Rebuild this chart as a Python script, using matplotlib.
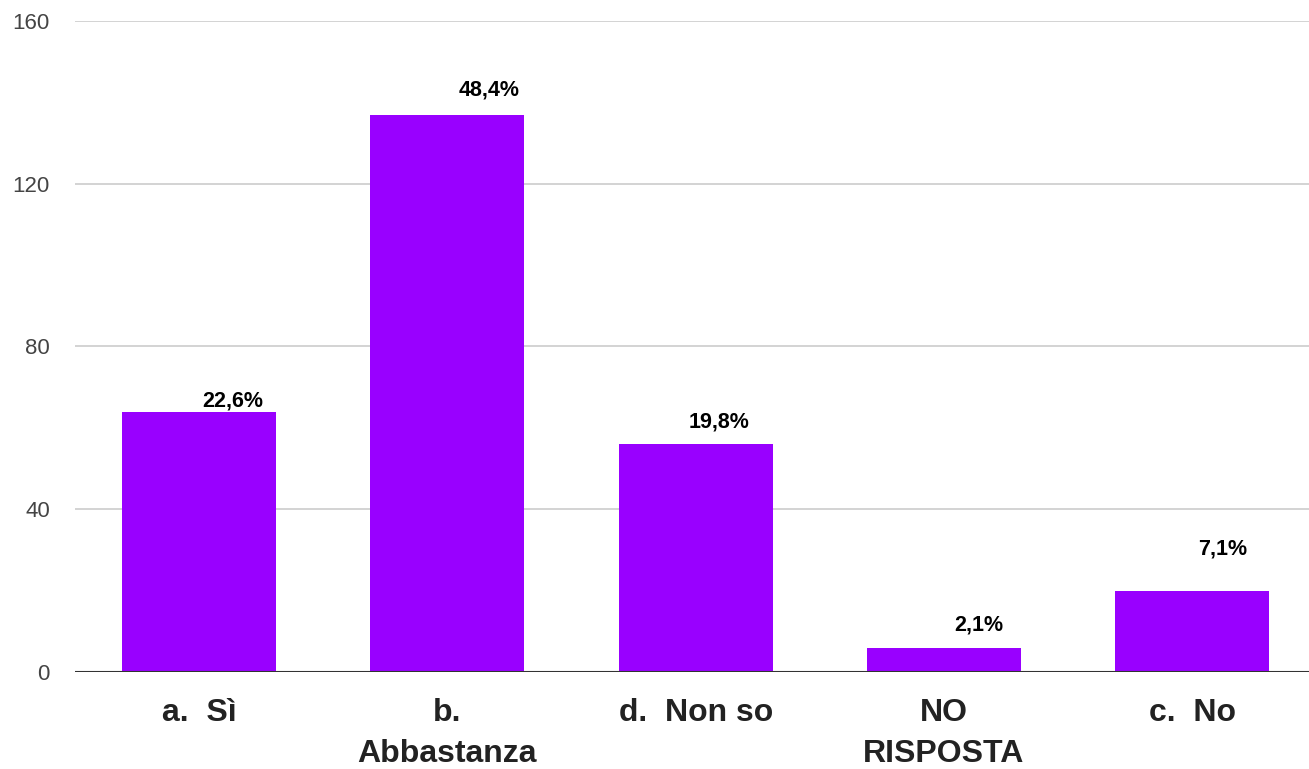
import matplotlib.pyplot as plt

plt.rcParams['font.family'] = ['Liberation Sans', 'DejaVu Sans']

# survey answers, counts (total 283)
categories = ['a.  Sì', 'b.\nAbbastanza', 'd.  Non so', 'NO\nRISPOSTA', 'c.  No']
counts = [64, 137, 56, 6, 20]
pct_labels = ['22,6%', '48,4%', '19,8%', '2,1%', '7,1%']
y_ticks = [0, 40, 80, 120, 160]

# label nudges in points (Sheets places them a bit irregularly)
nudge_x = [24, 30, 17, 25, 22]
nudge_y = [4, 14, 12, 12, 26]

fig = plt.figure(figsize=(13.09, 7.69), dpi=100)
ax = fig.add_axes([75 / 1309, 97 / 769, 1234 / 1309, 651 / 769])

x = range(len(categories))
ax.bar(x, counts, width=0.62, color='#9900ff', zorder=3)

for i, (c, lab) in enumerate(zip(counts, pct_labels)):
    ax.annotate(lab, (i, c), xytext=(nudge_x[i], nudge_y[i]),
                textcoords='offset points', ha='center', va='baseline',
                fontsize=15.5, fontweight='bold', color='black')

ax.set_xlim(-0.5, 4.47)
ax.set_ylim(0, 160)
ax.set_yticks(y_ticks)
ax.set_yticklabels([str(t) for t in y_ticks], fontsize=16, color='#444444')
ax.set_xticks(list(x))
ax.set_xticklabels(categories, fontsize=23, fontweight='bold',
                   color='#222222', linespacing=1.45)

ax.grid(axis='y', color='#cccccc', linewidth=1.2, zorder=0)
ax.axhline(0, color='#333333', linewidth=1.5, zorder=4)
for s in ax.spines.values():
    s.set_visible(False)
ax.tick_params(axis='y', length=0, pad=18)
ax.tick_params(axis='x', length=0, pad=19)

fig.savefig('out.png', dpi=100)
